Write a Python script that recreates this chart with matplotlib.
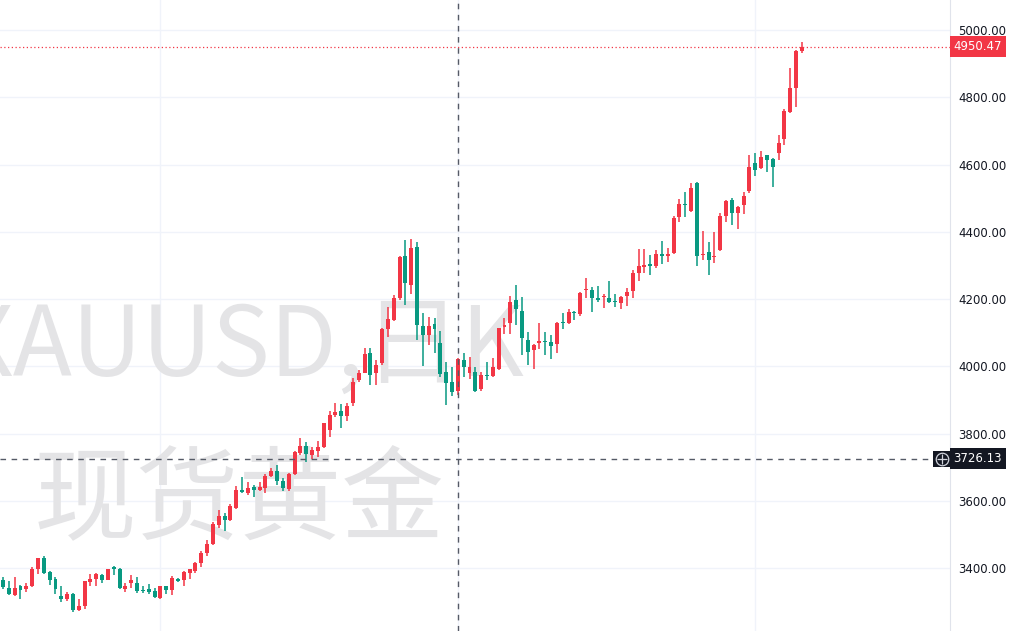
import matplotlib
matplotlib.use('Agg')
from matplotlib import pyplot as plt
from matplotlib.patches import Rectangle
import matplotlib.transforms as mtransforms

# 现货黄金 XAUUSD 日K
opens = [3365, 3341, 3320, 3347, 3338, 3347, 3397, 3430, 3389, 3369,
         3317, 3310, 3323, 3275, 3288, 3360, 3370, 3380, 3367, 3403,
         3399, 3340, 3358, 3357, 3336, 3338, 3333, 3313, 3347, 3336,
         3370, 3365, 3387, 3391, 3415, 3447, 3473, 3529, 3557, 3545,
         3580, 3634, 3625, 3643, 3632, 3640, 3676, 3689, 3659, 3635,
         3682, 3743, 3765, 3738, 3750, 3761, 3812, 3857, 3867, 3854,
         3891, 3960, 3982, 4039, 3980, 4009, 4110, 4138, 4203, 4329,
         4242, 4356, 4121, 4094, 4125, 4069, 3985, 3955, 3926, 4019,
         3982, 3985, 3932, 3976, 3971, 3994, 4117, 4128, 4199, 4166,
         4079, 4049, 4069, 4075, 4073, 4067, 4133, 4130, 4163, 4157,
         4226, 4226, 4203, 4205, 4203, 4195, 4190, 4208, 4225, 4279,
         4295, 4304, 4298, 4334, 4329, 4336, 4445, 4483, 4463, 4546,
         4330, 4341, 4326, 4346, 4447, 4495, 4455, 4480, 4522, 4604,
         4591, 4629, 4616, 4634, 4675, 4757, 4827, 4936]
highs = [3373, 3364, 3373, 3350, 3358, 3403, 3432, 3437, 3392, 3373,
         3347, 3330, 3328, 3310, 3364, 3384, 3387, 3384, 3399, 3407,
         3402, 3357, 3379, 3375, 3347, 3355, 3343, 3349, 3349, 3377,
         3372, 3392, 3399, 3419, 3452, 3484, 3538, 3575, 3565, 3590,
         3645, 3672, 3656, 3647, 3656, 3682, 3699, 3706, 3669, 3684,
         3749, 3788, 3775, 3761, 3780, 3833, 3867, 3892, 3890, 3892,
         3965, 3991, 4054, 4054, 4019, 4113, 4176, 4212, 4329, 4376,
         4378, 4371, 4158, 4146, 4143, 4106, 4014, 3999, 4026, 4041,
         4028, 3999, 3984, 4014, 4024, 4115, 4143, 4209, 4242, 4207,
         4103, 4066, 4128, 4103, 4094, 4133, 4158, 4170, 4166, 4220,
         4262, 4235, 4239, 4215, 4255, 4215, 4210, 4232, 4287, 4348,
         4348, 4331, 4346, 4374, 4351, 4447, 4497, 4519, 4546, 4549,
         4404, 4371, 4401, 4455, 4495, 4500, 4477, 4517, 4629, 4634,
         4641, 4629, 4619, 4688, 4764, 4886, 4939, 4965]
lows = [3340, 3320, 3317, 3308, 3330, 3345, 3382, 3382, 3352, 3323,
        3300, 3303, 3270, 3273, 3280, 3347, 3349, 3357, 3365, 3379,
        3340, 3330, 3343, 3326, 3328, 3323, 3312, 3308, 3323, 3320,
        3359, 3349, 3370, 3385, 3405, 3437, 3469, 3521, 3511, 3540,
        3577, 3625, 3617, 3613, 3630, 3625, 3672, 3647, 3630, 3630,
        3679, 3738, 3716, 3726, 3732, 3758, 3789, 3850, 3818, 3837,
        3883, 3955, 3980, 3945, 3945, 4004, 4088, 4136, 4198, 4183,
        4215, 4079, 4001, 4064, 4041, 3970, 3885, 3913, 3915, 3970,
        3962, 3925, 3928, 3959, 3969, 3990, 4097, 4098, 4123, 4034,
        4004, 3994, 4051, 4034, 4021, 4039, 4110, 4126, 4138, 4151,
        4203, 4163, 4193, 4173, 4190, 4176, 4170, 4180, 4203, 4255,
        4279, 4272, 4294, 4305, 4311, 4334, 4428, 4445, 4460, 4299,
        4316, 4272, 4308, 4344, 4428, 4420, 4408, 4453, 4515, 4566,
        4586, 4579, 4534, 4614, 4658, 4754, 4772, 4931]
closes = [3345, 3323, 3343, 3336, 3347, 3397, 3430, 3387, 3367, 3338,
          3308, 3323, 3275, 3288, 3362, 3370, 3382, 3367, 3397, 3397,
          3343, 3347, 3365, 3333, 3332, 3330, 3316, 3347, 3336, 3372,
          3362, 3389, 3397, 3415, 3447, 3473, 3533, 3557, 3545, 3585,
          3632, 3627, 3638, 3633, 3642, 3676, 3689, 3659, 3640, 3682,
          3745, 3763, 3740, 3751, 3761, 3831, 3857, 3864, 3854, 3884,
          3955, 3982, 4037, 3975, 4004, 4110, 4140, 4203, 4325, 4247,
          4351, 4123, 4095, 4121, 4110, 3978, 3950, 3923, 4021, 3999,
          3998, 3928, 3974, 3972, 3999, 4113, 4124, 4193, 4170, 4084,
          4044, 4064, 4077, 4072, 4061, 4130, 4128, 4163, 4158, 4218,
          4230, 4203, 4199, 4208, 4193, 4191, 4206, 4222, 4279, 4299,
          4302, 4298, 4334, 4329, 4334, 4442, 4483, 4480, 4529, 4328,
          4334, 4316, 4329, 4447, 4493, 4455, 4475, 4507, 4594, 4584,
          4622, 4614, 4594, 4665, 4760, 4827, 4936, 4950.47]

price_ticks = [3400, 3600, 3800, 4000, 4200, 4400, 4600, 4800, 5000]
last_price = closes[-1]
cross_price = 3726.13
cross_bar = 78
month_lines = [27, 78, 129]

UP = '#f23645'
DOWN = '#089981'

W, H = 1014, 631
fig = plt.figure(figsize=(W / 100, H / 100), dpi=100)
ax = fig.add_axes([0, 0, 950 / W, 1])

n = len(closes)
xs = list(range(n))
cols = [UP if c >= o else DOWN for o, c in zip(opens, closes)]
bottoms = [min(o, c) for o, c in zip(opens, closes)]
heights = [max(abs(c - o), 3) for o, c in zip(opens, closes)]

ax.vlines(xs, lows, highs, colors=cols, linewidth=1.1, zorder=3)
ax.bar(xs, heights, bottom=bottoms, width=0.68, color=cols, linewidth=0, zorder=4)

ax.set_xlim(-0.515, 162.4)
ax.set_ylim(3214, 5089)

# grid
for p in price_ticks:
    ax.axhline(p, color='#f0f3fa', linewidth=1, zorder=0)
for m in month_lines:
    ax.axvline(m, color='#f0f3fa', linewidth=1, zorder=0)

# watermark (behind the candles)
wm_font = ['Noto Sans CJK SC', 'DejaVu Sans']
ax.text(-0.042, 0.404, 'XAUUSD,日K', fontsize=70, color='#e4e4e6',
        family=wm_font, ha='left', va='baseline', zorder=1,
        transform=fig.transFigure, clip_on=False)
ax.text(0.033, 0.203, '现货黄金', fontsize=74, color='#e4e4e6',
        family=wm_font, ha='left', va='center', zorder=1,
        transform=fig.transFigure, clip_on=False)

# last price line
ax.axhline(last_price, color=UP, linewidth=0.9, linestyle=(0, (1, 2)), zorder=2)

# crosshair
ax.axhline(cross_price, color='#555a66', linewidth=1, linestyle=(0, (4, 4)), zorder=5)
ax.axvline(cross_bar, color='#555a66', linewidth=1, linestyle=(0, (4, 4)), zorder=5)

# right price scale
ax.yaxis.tick_right()
ax.set_yticks(price_ticks)
ax.set_yticklabels([f'{p:.2f}' for p in price_ticks])
ax.tick_params(axis='y', length=0, pad=6, labelsize=8.5, labelcolor='#131722')
ax.set_xticks([])
for s in ['left', 'top', 'bottom']:
    ax.spines[s].set_visible(False)
ax.spines['right'].set_color('#e0e3eb')

tr = mtransforms.blended_transform_factory(ax.transAxes, ax.transData)
ax.text(1.0035, last_price, f'{last_price:.2f}', transform=tr, fontsize=8.5,
        color='white', va='center', ha='left', clip_on=False, zorder=10,
        bbox=dict(boxstyle='square,pad=0.32', fc=UP, ec='none'))
ax.text(1.0035, cross_price, f'{cross_price:.2f}', transform=tr, fontsize=8.5,
        color='white', va='center', ha='left', clip_on=False, zorder=10,
        bbox=dict(boxstyle='square,pad=0.32', fc='#131722', ec='none'))

# crosshair "+" button
ax.add_patch(Rectangle((1 - 17 / 950, cross_price - 24), 17 / 950, 48,
                       transform=tr, fc='#131722', ec='none', zorder=9))
ax.plot([1 - 8.5 / 950], [cross_price], transform=tr, marker='o', ms=9,
        mfc='none', mec='#d1d4dc', mew=0.9, zorder=10)
ax.plot([1 - 8.5 / 950], [cross_price], transform=tr, marker='+', ms=7,
        mec='#d1d4dc', mew=0.9, zorder=10)

fig.savefig('out.png', dpi=100)
